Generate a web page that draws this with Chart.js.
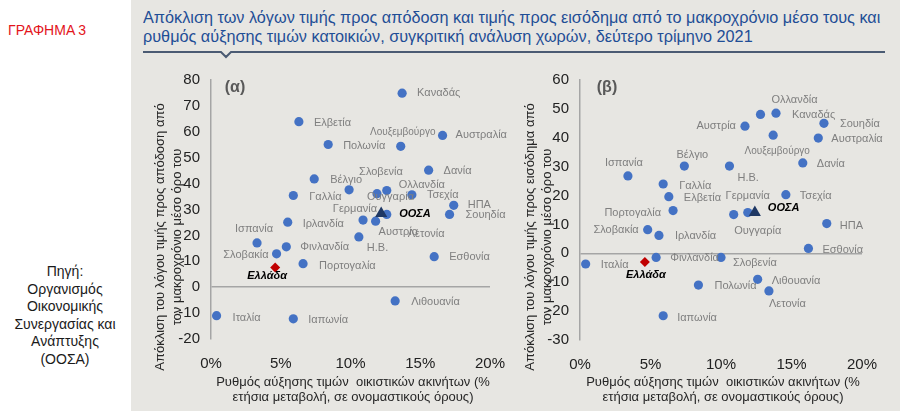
<!DOCTYPE html>
<html>
<head>
<meta charset="utf-8">
<script src="https://cdn.jsdelivr.net/npm/chart.js@4"></script>
<style>
  body { margin: 0; width: 900px; height: 411px; position: relative; overflow: hidden; background: #fff;
         font-family: "Liberation Sans", Arial, sans-serif; }
  #panel { position: absolute; left: 131px; top: 0; width: 769px; height: 411px; background: #e7e6e2; }
  #tag { position: absolute; left: 8px; top: 22px; font-size: 14px; color: #e3141b; }
  #source { position: absolute; left: 0; top: 263px; width: 130px; text-align: center; font-size: 14px;
            line-height: 17.6px; color: #1a1a1a; }
  #title { position: absolute; left: 143px; top: 8px; font-size: 17px; line-height: 19px; color: #1f4e96;
           white-space: nowrap; transform: scaleX(0.955); transform-origin: left top; }
  #rule { position: absolute; left: 0; top: 0; }
  canvas { position: absolute; }
  #chartA { left: 130px; top: 60px; }
  #chartB { left: 515px; top: 60px; }
</style>
</head>
<body>
<div id="panel"></div>
<div id="tag">ΓΡΑΦΗΜΑ 3</div>
<div id="source">Πηγή:<br>Οργανισμός<br>Οικονομικής<br>Συνεργασίας και<br>Ανάπτυξης<br>(ΟΟΣΑ)</div>
<div id="title">Απόκλιση των λόγων τιμής προς απόδοση και τιμής προς εισόδημα από το μακροχρόνιο μέσο τους και<br>ρυθμός αύξησης τιμών κατοικιών, συγκριτική ανάλυση χωρών, δεύτερο τρίμηνο 2021</div>
<svg id="rule" width="900" height="70"><polyline points="143,52 221,52 226,57 231,52 885,52" fill="none" stroke="#4b5b73" stroke-width="2"/></svg>
<canvas id="chartA" width="385" height="351"></canvas>
<canvas id="chartB" width="385" height="351"></canvas>
<script>
// data
const countries = ['Καναδάς', 'Ελβετία', 'Αυστραλία', 'Λουξεμβούργο', 'Πολωνία', 'Δανία', 'Βέλγιο',
  'Σλοβενία', 'Γαλλία', 'Ουγγαρία', 'Ολλανδία', 'Τσεχία', 'ΗΠΑ', 'Σουηδία', 'Γερμανία', 'Αυστρία',
  'Λετονία', 'Ιρλανδία', 'Η.Β.', 'Φινλανδία', 'Εσθονία', 'Ισπανία', 'Σλοβακία', 'Πορτογαλία',
  'Λιθουανία', 'Ιταλία', 'Ιαπωνία', 'Ελλάδα', 'ΟΟΣΑ'];

// panel (α): house price growth (%) vs price-to-rent deviation
const growthA = [13.7, 6.3, 16.6, 13.6, 8.4, 15.6, 7.4, 9.9, 5.9, 11.9, 12.6, 14.4, 17.4, 17.1, 10.9, 11.8,
  12.6, 5.5, 10.6, 5.4, 16.0, 3.3, 4.7, 6.6, 13.2, 0.4, 5.9, 4.6, 12.2];
const priceToRent = [74.9, 63.9, 58.6, 54.4, 55.1, 45.2, 41.8, 37.6, 35.4, 36.1, 37.3, 35.7, 31.6, 28.1, 25.9, 25.5,
  28.1, 25.1, 19.4, 15.6, 11.8, 17.1, 12.9, 9.1, -5.3, -11.0, -12.2, 7.6, 28.5];

// panel (β): house price growth (%) vs price-to-income deviation
const growthB = [13.9, 6.3, 16.9, 13.7, 8.4, 15.8, 7.4, 10.0, 5.9, 11.9, 12.8, 14.6, 17.5, 17.3, 10.9, 11.7,
  13.4, 5.6, 10.6, 5.4, 16.2, 3.4, 4.8, 6.6, 12.6, 0.4, 5.9, 4.6, 12.4];
const priceToIncome = [48.5, 19.6, 39.9, 40.9, -11.0, 31.3, 30.2, -1.4, 24.0, 14.1, 48.1, 20.3, 10.3, 45.0, 13.4, 44.0,
  -13.0, 6.2, 30.2, -1.4, 1.7, 26.8, 8.2, 14.8, -9.0, -3.7, -21.6, -3.0, 14.1];

const xTitle = ['Ρυθμός αύξησης τιμών  οικιστικών ακινήτων (%', 'ετήσια μεταβολή, σε ονομαστικούς όρους)'];
const yTitleA = ['Απόκλιση του λόγου τιμής προς απόδοση από', 'τον μακροχρόνιο μέσο όρο του'];
const yTitleB = ['Απόκλιση του λόγου τιμής προς εισόδημα από', 'τον μακροχρόνιο μέσο όρο του'];

// label placement next to each point: [dx, dy, align]
const labelPosA = {
  'Καναδάς': [15, 0, 'left'], 'Ελβετία': [15, 1, 'left'], 'Αυστραλία': [13, 0, 'left'],
  'Λουξεμβούργο': [2, -14, 'center'], 'Πολωνία': [15, 1, 'left'], 'Δανία': [15, 1, 'left'],
  'Βέλγιο': [16, 1, 'left'], 'Σλοβενία': [10, -18, 'left'], 'Γαλλία': [16, 1, 'left'],
  'Ουγγαρία': [-10, 3, 'left'], 'Ολλανδία': [12, -6, 'left'], 'Τσεχία': [15, 0, 'left'],
  'ΗΠΑ': [14, 0, 'left'], 'Σουηδία': [16, 1, 'left'], 'Γερμανία': [14, -11, 'right'],
  'ΟΟΣΑ': [18, 1, 'left'], 'Αυστρία': [3, 11, 'left'], 'Λετονία': [21, 20, 'left'],
  'Ιρλανδία': [15, 2, 'left'], 'Η.Β.': [8, 11, 'left'], 'Φινλανδία': [14, 0, 'left'],
  'Εσθονία': [15, 0, 'left'], 'Ισπανία': [-3, -14, 'center'], 'Σλοβακία': [-8, 1, 'right'],
  'Ελλάδα': [-8, 8, 'center'], 'Πορτογαλία': [16, 2, 'left'], 'Λιθουανία': [16, 1, 'left'],
  'Ιταλία': [16, 2, 'left'], 'Ιαπωνία': [15, 1, 'left']
};
const labelPosB = {
  'Ολλανδία': [11, -14, 'left'], 'Καναδάς': [16, 2, 'left'], 'Αυστρία': [-9, 0, 'right'],
  'Λουξεμβούργο': [4, 16, 'center'], 'Σουηδία': [16, 1, 'left'], 'Αυστραλία': [13, 1, 'left'],
  'Δανία': [14, 1, 'left'], 'Η.Β.': [8, 12, 'left'], 'Βέλγιο': [8, -11, 'center'],
  'Ισπανία': [-4, -13, 'center'], 'Γαλλία': [16, 2, 'left'], 'Ελβετία': [15, 1, 'left'],
  'Τσεχία': [14, 1, 'left'], 'Γερμανία': [14, -19, 'center'], 'Πορτογαλία': [-12, 2, 'right'],
  'ΟΟΣΑ': [13, -5, 'left'], 'Ουγγαρία': [10, 18, 'center'], 'ΗΠΑ': [13, 2, 'left'],
  'Σλοβακία': [-9, 0, 'right'], 'Ιρλανδία': [16, 1, 'left'], 'Εσθονία': [14, 2, 'left'],
  'Φινλανδία': [14, 1, 'left'], 'Σλοβενία': [12, 6, 'left'], 'Ιταλία': [15, 1, 'left'],
  'Ελλάδα': [1, 13, 'center'], 'Λιθουανία': [14, 2, 'left'], 'Πολωνία': [16, 1, 'left'],
  'Λετονία': [0, 13, 'left'], 'Ιαπωνία': [14, 2, 'left']
};

const FONT = '"Liberation Sans", Arial, sans-serif';
Chart.defaults.font.family = FONT;

function buildDatasets(xs, ys) {
  const pts = countries.map((c, i) => ({ x: xs[i], y: ys[i], name: c }));
  return [
    { data: pts.filter(p => p.name === 'ΟΟΣΑ'), pointStyle: 'triangle', pointRadius: 7, backgroundColor: '#1f3864', borderWidth: 0 },
    { data: pts.filter(p => p.name === 'Ελλάδα'), pointStyle: 'rectRot', pointRadius: 5, backgroundColor: '#c00000', borderWidth: 0 },
    { data: pts.filter(p => p.name !== 'ΟΟΣΑ' && p.name !== 'Ελλάδα'), pointStyle: 'circle', pointRadius: 4.6, backgroundColor: '#4472c4', borderWidth: 0 }
  ];
}

// point labels, panel tag and axis titles
function decor(cfg) {
  return {
    id: 'decor',
    afterDatasetsDraw(chart) {
      const ctx = chart.ctx;
      ctx.save();
      ctx.textBaseline = 'middle';
      chart.data.datasets.forEach((ds, di) => {
        chart.getDatasetMeta(di).data.forEach((el, i) => {
          const name = ds.data[i].name;
          const [dx, dy, align] = cfg.pos[name] || [12, 0, 'left'];
          const special = name === 'ΟΟΣΑ' || name === 'Ελλάδα';
          ctx.font = special ? 'italic bold 11px ' + FONT : (name === 'Λουξεμβούργο' ? '10px ' : '11px ') + FONT;
          ctx.fillStyle = special ? '#000' : '#7f7f7f';
          ctx.textAlign = align;
          ctx.fillText(name, el.x + dx, el.y + dy);
        });
      });

      ctx.textAlign = 'center';
      ctx.font = 'bold 16px ' + FONT;
      ctx.fillStyle = '#595959';
      ctx.fillText(cfg.tag, cfg.tagX, 28);

      ctx.font = '13px ' + FONT;
      ctx.fillStyle = '#262626';
      cfg.xTitle.forEach((t, k) => ctx.fillText(t, cfg.xTitleX, 322 + k * 15.5));
      ctx.translate(0, 177);
      ctx.rotate(-Math.PI / 2);
      cfg.yTitle.forEach((t, k) => ctx.fillText(t, 0, cfg.yTitleX + k * 17));
      ctx.restore();
    }
  };
}

function makeChart(id, xs, ys, yMin, yMax, yWidth, pad, cfg) {
  new Chart(document.getElementById(id), {
    type: 'scatter',
    data: { datasets: buildDatasets(xs, ys) },
    options: {
      responsive: false,
      animation: false,
      layout: { padding: pad },
      plugins: { legend: { display: false }, tooltip: { enabled: false } },
      scales: {
        x: {
          type: 'linear', min: 0, max: 20,
          ticks: { stepSize: 5, callback: v => v + '%', color: '#222', font: { size: 15 }, padding: 8 },
          grid: { display: false },
          border: { display: false },
          afterFit(s) { s.height = 30; }
        },
        y: {
          min: yMin, max: yMax,
          ticks: { stepSize: 10, color: '#222', font: { size: 15 }, padding: 11 },
          grid: { color: c => (c.tick && c.tick.value === 0) ? '#a5a5a5' : 'rgba(0,0,0,0)', lineWidth: 1.5, drawTicks: false },
          border: { display: true, color: '#a5a5a5', width: 1.5 },
          afterFit(s) { s.width = yWidth; }
        }
      }
    },
    plugins: [decor(cfg)]
  });
}

makeChart('chartA', growthA, priceToRent, -20, 80, 81, { left: 0, right: 25, top: 16, bottom: 42 },
  { pos: labelPosA, tag: '(α)', tagX: 105, xTitle: xTitle, xTitleX: 223, yTitle: yTitleA, yTitleX: 30 });
makeChart('chartB', growthB, priceToIncome, -30, 60, 65, { left: 0, right: 38, top: 18, bottom: 41 },
  { pos: labelPosB, tag: '(β)', tagX: 92, xTitle: xTitle, xTitleX: 208, yTitle: yTitleB, yTitleX: 15 });
</script>
</body>
</html>
